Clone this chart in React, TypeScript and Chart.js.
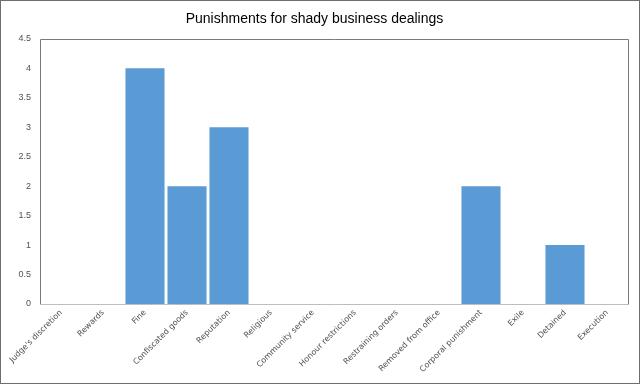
import React, { useEffect, useRef } from "react";
import { Chart, registerables } from "chart.js";

Chart.register(...registerables);

const TITLE = "Punishments for shady business dealings";
const categories = [
  "Judge's discretion",
  "Rewards",
  "Fine",
  "Confiscated goods",
  "Reputation",
  "Religious",
  "Community service",
  "Honour restrictions",
  "Restraining orders",
  "Removed from office",
  "Corporal punishment",
  "Exile",
  "Detained",
  "Execution",
];
const values = [0, 0, 4, 2, 3, 0, 0, 0, 0, 0, 2, 0, 1, 0];
const yMin = 0;
const yMax = 4.5;
const yStep = 0.5;

const framePlugin = {
  id: "frame",
  beforeDatasetsDraw(chart: any) {
    const { ctx, chartArea } = chart;
    const { left, right, top, bottom } = chartArea;
    ctx.save();
    ctx.lineWidth = 1;
    ctx.strokeStyle = "#7a7a7a";
    ctx.beginPath();
    ctx.moveTo(Math.round(left) + 0.5, Math.round(bottom) + 0.5);
    ctx.lineTo(Math.round(left) + 0.5, Math.round(top) + 0.5);
    ctx.lineTo(Math.round(right) + 0.5, Math.round(top) + 0.5);
    ctx.lineTo(Math.round(right) + 0.5, Math.round(bottom) + 0.5);
    ctx.stroke();
    ctx.strokeStyle = "#bdbdbd";
    ctx.beginPath();
    ctx.moveTo(Math.round(left) + 0.5, Math.round(bottom) + 0.5);
    ctx.lineTo(Math.round(right) + 0.5, Math.round(bottom) + 0.5);
    ctx.stroke();
    ctx.restore();
  },
};

export default function App() {
  const ref = useRef<HTMLCanvasElement | null>(null);
  useEffect(() => {
    document.body.style.margin = "0";
    const canvas = ref.current;
    if (!canvas) return;
    const chart = new Chart(canvas, {
      type: "bar",
      data: {
        labels: categories,
        datasets: [
          {
            data: values,
            backgroundColor: "#5b9bd5",
            borderWidth: 0,
            barPercentage: 0.93,
            categoryPercentage: 1,
          },
        ],
      },
      plugins: [framePlugin],
      options: {
        animation: false,
        responsive: false,
        maintainAspectRatio: false,
        layout: { padding: { left: 0, right: 11, top: 0, bottom: 0 } },
        plugins: {
          legend: { display: false },
          tooltip: { enabled: false },
          title: {
            display: true,
            text: TITLE,
            color: "#000000",
            font: { family: "'Liberation Sans', Arial, sans-serif", size: 14, weight: "normal" },
            padding: { top: 10, bottom: 11 },
          },
        },
        scales: {
          x: {
            grid: { display: false, drawTicks: false },
            border: { display: false },
            ticks: {
              maxRotation: 45,
              minRotation: 45,
              autoSkip: false,
              color: "#505050",
              padding: 4,
              font: { family: "'DejaVu Sans', sans-serif", size: 8 },
            },
            afterFit(scale: any) {
              scale.height = 79;
            },
          },
          y: {
            min: yMin,
            max: yMax,
            grid: { display: false, drawTicks: false },
            border: { display: false },
            ticks: {
              stepSize: yStep,
              color: "#505050",
              padding: 9,
              font: { family: "'Liberation Sans', Arial, sans-serif", size: 9 },
              callback: (v: any) => String(Number(v)),
            },
            afterFit(scale: any) {
              scale.width = 39;
            },
          },
        },
      },
    });
    return () => chart.destroy();
  }, []);
  return (
    <div
      style={{
        position: "fixed",
        left: 0,
        top: 0,
        width: 640,
        height: 384,
        boxSizing: "border-box",
        border: "1px solid #6e6e6e",
        background: "#ffffff",
      }}
    >
      <canvas ref={ref} width={638} height={382} style={{ display: "block" }} />
    </div>
  );
}
